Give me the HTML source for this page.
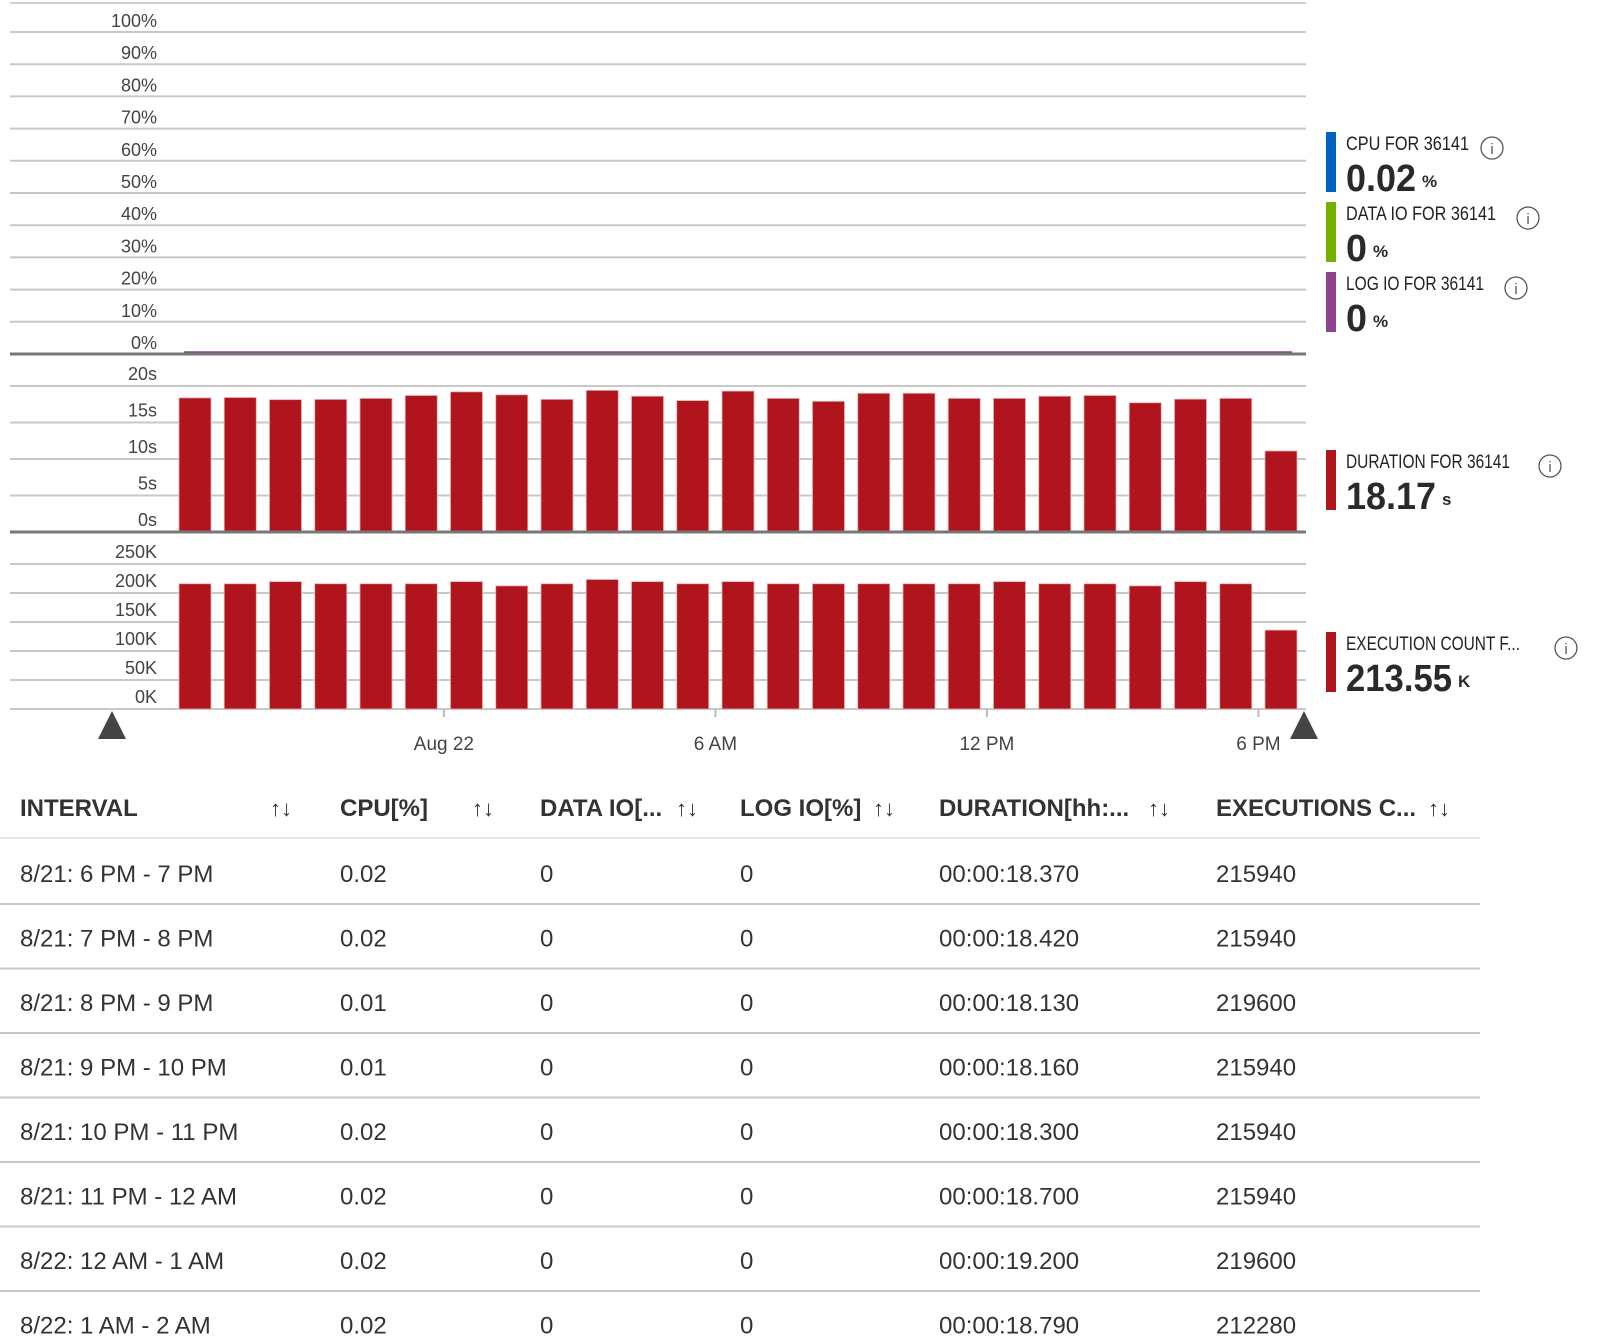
<!DOCTYPE html>
<html><head><meta charset="utf-8"><style>
html,body{margin:0;padding:0;background:#fff;}
svg{display:block;font-family:"Liberation Sans",sans-serif;}
</style></head><body>
<svg id="root" width="1610" height="1344" viewBox="0 0 1610 1344">
<g id="pct"></g>
<g id="dur"></g>
<g id="exe"></g>
<g id="xax"></g>
<polygon points="98,739 112,711 126,739" fill="#444"/>
<polygon points="1290,739 1304,711 1318,739" fill="#444"/>
<g id="legend"></g>
<g id="table"></g>
</svg>
<script>
const NS='http://www.w3.org/2000/svg';
const pctTicks=['100%','90%','80%','70%','60%','50%','40%','30%','20%','10%','0%'];
const durTicks=['20s','15s','10s','5s','0s'];
const durTickVals=[20,15,10,5,0];
const exeTicks=['250K','200K','150K','100K','50K','0K'];
const exeTickVals=[250000,200000,150000,100000,50000,0];
const categories=['6 PM','7 PM','8 PM','9 PM','10 PM','11 PM','12 AM','1 AM','2 AM','3 AM','4 AM','5 AM','6 AM','7 AM','8 AM','9 AM','10 AM','11 AM','12 PM','1 PM','2 PM','3 PM','4 PM','5 PM','6 PM b'];
const durations=[18.37,18.42,18.13,18.16,18.30,18.70,19.20,18.79,18.17,19.4,18.6,18.0,19.3,18.3,17.9,19.0,19.0,18.3,18.3,18.6,18.7,17.7,18.2,18.3,11.1];
const executions=[215940,215940,219600,215940,215940,215940,219600,212280,215940,223260,219600,215940,219600,215940,215940,215940,215940,215940,219600,215940,215940,212280,219600,215940,136000];
const xTickLabels=['Aug 22','6 AM','12 PM','6 PM'];
const xTickIdx=[6,12,18,24];
const cpuLine=[0,0];

function mk(tag,attrs,parent){const e=document.createElementNS(NS,tag);for(const k in attrs)e.setAttribute(k,attrs[k]);parent.appendChild(e);return e;}
function txt(parent,x,y,s,attrs){const t=mk('text',Object.assign({x:x,y:y},attrs||{}),parent);t.textContent=s;return t;}
const slot=45.25, x0=172.4;
function xSlot(i){return x0+i*slot;}
function yPct(v){return 354-v*3.22;}
function yDur(v){return 532-v*7.3;}
function yExe(v){return 709-v*(145/250000);}

// percent pane
const pct=document.getElementById('pct');
mk('line',{x1:10,x2:1306,y1:3,y2:3,stroke:'#d0d0d0','stroke-width':2},pct);
pctTicks.forEach((l,i)=>{const v=100-i*10;const y=yPct(v);
  if(v>0){const g=mk('line',{x1:10,x2:1306,y1:y,y2:y,stroke:'#c8c8c8','stroke-width':2},pct);}
  const t=txt(pct,157,y-5,l,{'text-anchor':'end','font-size':18,fill:'#444'});
  });
const pl=mk('line',{x1:184,x2:1292,y1:yPct(cpuLine[0])-2,y2:yPct(cpuLine[1])-2,stroke:'#8b3f8b','stroke-width':1.5},pct);

mk('line',{x1:10,x2:1306,y1:354,y2:354,stroke:'#777','stroke-width':3},pct);

// duration pane
const dur=document.getElementById('dur');
durTicks.forEach((l,i)=>{const y=yDur(durTickVals[i]);
  if(durTickVals[i]>0)mk('line',{x1:10,x2:1306,y1:y,y2:y,stroke:'#c8c8c8','stroke-width':2},dur);
  const t=txt(dur,157,y-6,l,{'text-anchor':'end','font-size':18,fill:'#444'});
  });
durations.forEach((v,i)=>{const r=mk('rect',{x:xSlot(i)+6.6,y:yDur(v),width:32,height:532-yDur(v),fill:'#b0151d',stroke:'#e7aeb1','stroke-width':0.8},dur);
  });
mk('line',{x1:10,x2:1306,y1:532,y2:532,stroke:'#777','stroke-width':3},dur);

// execution pane
const exe=document.getElementById('exe');
exeTicks.forEach((l,i)=>{const y=yExe(exeTickVals[i]);
  mk('line',{x1:10,x2:1306,y1:y,y2:y,stroke:'#c8c8c8','stroke-width':2},exe);
  const t=txt(exe,157,y-6,l,{'text-anchor':'end','font-size':18,fill:'#444'});
  });
executions.forEach((v,i)=>{const r=mk('rect',{x:xSlot(i)+6.6,y:yExe(v),width:32,height:709-yExe(v),fill:'#b0151d',stroke:'#e7aeb1','stroke-width':0.8},exe);
  });

// x axis
const xax=document.getElementById('xax');
xTickIdx.forEach((ix,k)=>{const x=xSlot(ix);
  mk('line',{x1:x,x2:x,y1:709,y2:717,stroke:'#bbb','stroke-width':2},xax);
  const t=txt(xax,x,750,xTickLabels[k],{'text-anchor':'middle','font-size':19,fill:'#444'});
  });

// legend
const lg=document.getElementById('legend');
const legTitles=['CPU FOR 36141','DATA IO FOR 36141','LOG IO FOR 36141','DURATION FOR 36141','EXECUTION COUNT F...'];
const legValues=['0.02','0','0','18.17','213.55'];
const legUnits=['%','%','%','s','K'];
const legColors=['#0063be','#74b200','#8c428c','#b0151d','#b0151d'];
const legTop=[132,202,272,450,632];
const legTitleW=[123,150,138,164,174];
const legValW=[70,21,21,90,106];
const legInfoX=[1492,1528,1516,1550,1566];
legTitles.forEach((tt,i)=>{const g=mk('g',{},lg);
  
  mk('rect',{x:1326,y:legTop[i],width:10,height:60,fill:legColors[i]},g);
  const a=txt(g,1346,legTop[i]+18,tt,{'font-size':19,fill:'#222',textLength:legTitleW[i],lengthAdjust:'spacingAndGlyphs'});
  
  const b=txt(g,1346,legTop[i]+59,legValues[i],{'font-size':38,'font-weight':'bold',fill:'#2a2a2a',textLength:legValW[i],lengthAdjust:'spacingAndGlyphs'});
  
  txt(g,1346+legValW[i]+6,legTop[i]+55,legUnits[i],{'font-size':17,'font-weight':'bold',fill:'#2a2a2a'});
  const ic=mk('g',{},g);
  mk('circle',{cx:legInfoX[i],cy:legTop[i]+16,r:11,fill:'none',stroke:'#555','stroke-width':1.3},ic);
  txt(ic,legInfoX[i],legTop[i]+22,'i',{'text-anchor':'middle','font-size':15,fill:'#555'});
});

// table
const tb=document.getElementById('table');
const colX=[20,340,540,740,939,1216];
const arrowX=[270,472,676,873,1148,1428];
const headers=['INTERVAL','CPU[%]','DATA IO[...','LOG IO[%]','DURATION[hh:...','EXECUTIONS C...'];
const rows=[
['8/21: 6 PM - 7 PM','0.02','0','0','00:00:18.370','215940'],
['8/21: 7 PM - 8 PM','0.02','0','0','00:00:18.420','215940'],
['8/21: 8 PM - 9 PM','0.01','0','0','00:00:18.130','219600'],
['8/21: 9 PM - 10 PM','0.01','0','0','00:00:18.160','215940'],
['8/21: 10 PM - 11 PM','0.02','0','0','00:00:18.300','215940'],
['8/21: 11 PM - 12 AM','0.02','0','0','00:00:18.700','215940'],
['8/22: 12 AM - 1 AM','0.02','0','0','00:00:19.200','219600'],
['8/22: 1 AM - 2 AM','0.02','0','0','00:00:18.790','212280']];
headers.forEach((h,i)=>{const t=txt(tb,colX[i],816,h,{'font-size':24,'font-weight':'bold',fill:'#333'});
  
  const s=txt(tb,arrowX[i],816,'↑↓',{'font-size':22,fill:'#333'});
  });
mk('line',{x1:0,x2:1480,y1:838,y2:838,stroke:'#e6e6e6','stroke-width':2},tb);
rows.forEach((r,ri)=>{const cy=873+ri*64.5;
  const g=mk('g',{},tb);
  r.forEach((c,ci)=>{txt(g,colX[ci],cy+9,c,{'font-size':24,fill:'#333'});});
  mk('line',{x1:0,x2:1480,y1:cy+31,y2:cy+31,stroke:'#c8c8c8','stroke-width':2},g);});
</script>
</body></html>
